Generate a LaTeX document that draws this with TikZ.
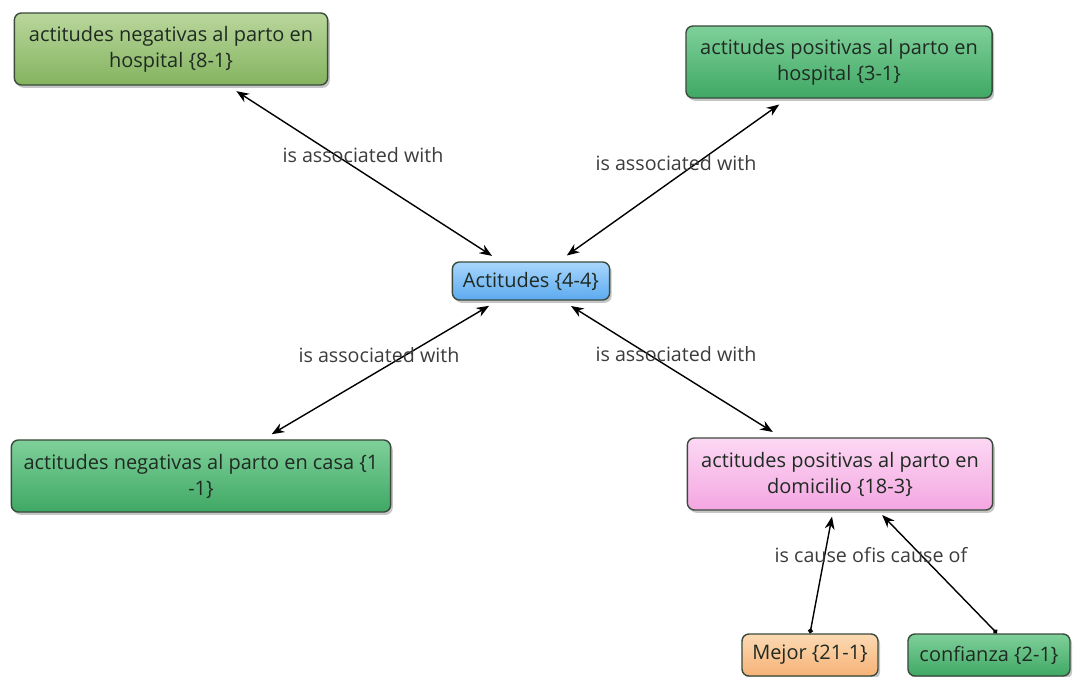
\documentclass[tikz,border=0pt]{standalone}
\usepackage{fontspec}
\setmainfont{Open Sans}
\usetikzlibrary{arrows.meta, shadows, positioning}
\definecolor{boxline}{HTML}{3A4A3C}
\definecolor{conceptText}{HTML}{1F2A22}
\definecolor{relText}{HTML}{3C3C3C}
\definecolor{oliveTop}{HTML}{B9D79C}
\definecolor{oliveBot}{HTML}{84B35F}
\definecolor{greenTop}{HTML}{7FD09A}
\definecolor{greenBot}{HTML}{3FA864}
\definecolor{blueTop}{HTML}{A8D6FC}
\definecolor{blueBot}{HTML}{5CAAF0}
\definecolor{pinkTop}{HTML}{FCD8F3}
\definecolor{pinkBot}{HTML}{F4A6E2}
\definecolor{orangeTop}{HTML}{FCDAB4}
\definecolor{orangeBot}{HTML}{F6B276}
\tikzset{concept/.style={draw=boxline, line width=1pt, rounded corners=5pt, align=center, inner sep=2pt, text=conceptText, font=\fontsize{14.2}{18.5}\selectfont, drop shadow={shadow xshift=1.5pt, shadow yshift=-2pt, opacity=0.45}},
	olive/.style={concept, top color=oliveTop, bottom color=oliveBot},
	green/.style={concept, top color=greenTop, bottom color=greenBot},
	blue/.style={concept, top color=blueTop, bottom color=blueBot},
	pink/.style={concept, top color=pinkTop, bottom color=pinkBot},
	orange/.style={concept, top color=orangeTop, bottom color=orangeBot},
	link/.style={text=relText, font=\fontsize{14}{16}\selectfont, inner sep=1pt},
	assoc/.style={{Stealth[length=9pt, width=7pt]}-{Stealth[length=9pt, width=7pt]}, line width=1pt, shorten <=0.25cm, shorten >=0.25cm},
	cause/.style={{Circle[length=3.5pt]}-{Stealth[length=9pt, width=7pt]}, line width=1pt, shorten >=0.15cm}}

\begin{document}
\begin{tikzpicture}[x=0.025cm, y=-0.025cm]
	\useasboundingbox (0,0) rectangle (1078,677);
	% concepts
	\node[olive, minimum width=7.83cm, minimum height=1.8cm] at (171,49) (neg hosp) {actitudes negativas al parto en\\hospital \{8-1\}};
	\node[green, minimum width=7.65cm, minimum height=1.8cm] at (839,62) (pos hosp) {actitudes positivas al parto en\\hospital \{3-1\}};
	\node[blue, minimum width=3.93cm, minimum height=0.95cm] at (531,281) (actitudes) {Actitudes \{4-4\}};
	\node[green, minimum width=9.48cm, minimum height=1.8cm] at (201,476) (neg casa) {actitudes negativas al parto en casa \{1\\-1\}};
	\node[pink, minimum width=7.63cm, minimum height=1.8cm] at (840,474) (pos dom) {actitudes positivas al parto en\\domicilio \{18-3\}};
	\node[orange, minimum width=3.4cm, minimum height=1.05cm] at (810,655) (mejor) {Mejor \{21-1\}};
	\node[green, minimum width=4.05cm, minimum height=1.05cm] at (989,655) (confianza) {confianza \{2-1\}};
	% links
	\draw
		(neg hosp) edge[assoc] (actitudes)
		(pos hosp) edge[assoc] (actitudes)
		(neg casa) edge[assoc] (actitudes)
		(pos dom) edge[assoc] (actitudes)
		(mejor.north) edge[cause] (pos dom)
		([xshift=0.2cm]confianza.north) edge[cause] ([xshift=0.95cm]pos dom.south);
	\node[link] at (363,155) (l1) {is associated with};
	\node[link] at (676,163) (l2) {is associated with};
	\node[link] at (379,355) (l3) {is associated with};
	\node[link] at (676,354) (l4) {is associated with};
	\node[link, anchor=west] at (773,555) (l5) {is cause of};
	\node[link, anchor=west, xshift=-2pt] at (l5.east) (l6) {is cause of};
\end{tikzpicture}
\end{document}
